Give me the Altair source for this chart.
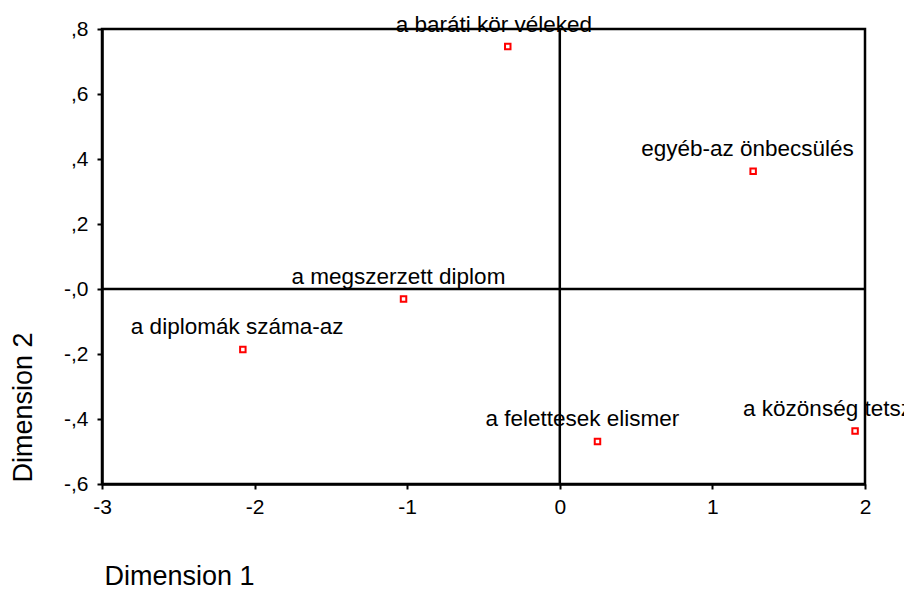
import altair as alt
import pandas as pd

labels = ["a baráti kör véleked", "egyéb-az önbecsülés", "a megszerzett diplom",
          "a diplomák száma-az", "a felettesek elismer", "a közönség tetsz"]
dim1 = [-0.341, 1.267, -1.024, -2.077, 0.247, 1.935]
dim2 = [0.746, 0.362, -0.031, -0.186, -0.469, -0.437]

x_ticks = [-3, -2, -1, 0, 1, 2]
y_ticks = [-0.6, -0.4, -0.2, 0.0, 0.2, 0.4, 0.6, 0.8]

df = pd.DataFrame({"label": labels, "d1": dim1, "d2": dim2})

FONT = "Liberation Sans"

xscale = alt.Scale(domain=[-3, 2], nice=False, zero=False)
yscale = alt.Scale(domain=[-0.6, 0.8], nice=False, zero=False)

xaxis = alt.Axis(values=x_ticks, title="Dimension 1", grid=False,
                 labelExpr="(datum.value < 0 ? '-' : '') + round(abs(datum.value))",
                 labelFont=FONT, labelFontSize=21, labelColor="black",
                 labelPadding=7, tickSize=5, tickWidth=2, tickColor="black",
                 domainColor="black", domainWidth=2.5,
                 titleFont=FONT, titleFontSize=27, titleFontWeight="normal",
                 titleColor="black", titleX=77, titleY=100,
                 titleAlign="center", titleBaseline="alphabetic",
                 labelFlush=False)
yaxis = alt.Axis(values=y_ticks, title="Dimension 2", grid=False,
                 labelExpr="(datum.value < 0 || abs(datum.value) < 1e-9 ? '-' : '') + ',' + round(abs(datum.value) * 10)",
                 labelFont=FONT, labelFontSize=21, labelColor="black",
                 labelPadding=9, tickSize=5, tickWidth=2, tickColor="black",
                 domainColor="black", domainWidth=2.5,
                 titleFont=FONT, titleFontSize=27, titleFontWeight="normal",
                 titleColor="black", titleX=-79, titleY=378, titleAngle=-90,
                 titleAlign="center", titleBaseline="middle",
                 labelFlush=False)

base = alt.Chart(df)

points = base.mark_point(shape="square", filled=False, color="red",
                         strokeWidth=2, size=30, opacity=1).encode(
    x=alt.X("d1:Q", scale=xscale, axis=xaxis),
    y=alt.Y("d2:Q", scale=yscale, axis=yaxis),
)

texts = base.mark_text(align="left", baseline="alphabetic", dx=-112, dy=-15,
                       font=FONT, fontSize=22.5, color="black").encode(
    x=alt.X("d1:Q", scale=xscale),
    y=alt.Y("d2:Q", scale=yscale),
    text="label:N",
)

vrule = alt.Chart(pd.DataFrame({"v": [0]})).mark_rule(color="black", strokeWidth=2.5).encode(
    x=alt.X("v:Q", scale=xscale))
hrule = alt.Chart(pd.DataFrame({"v": [0]})).mark_rule(color="black", strokeWidth=2.5).encode(
    y=alt.Y("v:Q", scale=yscale))

chart = alt.layer(vrule, hrule, points, texts).properties(
    width=763, height=455,
    autosize=alt.AutoSizeParams(type="none"),
    padding={"left": 94, "top": 21, "right": 39, "bottom": 104},
    background="white",
).configure_view(stroke="black", strokeWidth=2.5)

chart.save("out.html", embed_options={"renderer": "svg", "actions": False})
